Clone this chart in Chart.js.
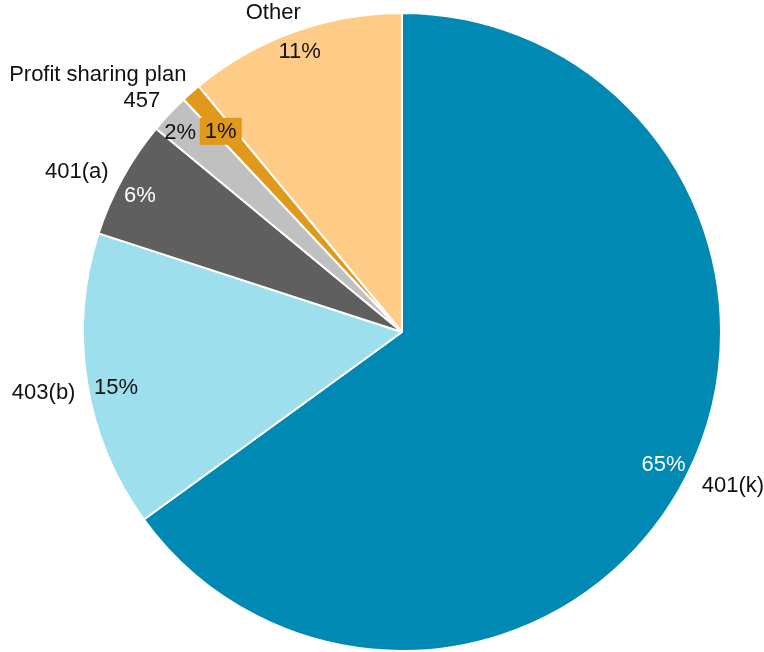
<!DOCTYPE html>
<html>
<head>
<meta charset="utf-8">
<script src="https://cdn.jsdelivr.net/npm/chart.js@4.4.0/dist/chart.umd.min.js"></script>
<style>
    html, body { margin: 0; padding: 0; background: #fff; }
    #wrap { width: 764px; height: 652px; }
</style>
</head>
<body>
<div id="wrap"><canvas id="planChart"></canvas></div>
<script>
const categories = ['401(k)', '403(b)', '401(a)', '457', 'Profit sharing plan', 'Other'];
const shares = [65, 15, 6, 2, 1, 11];
const sliceColors = ['#0089B3', '#9DDFED', '#5F5F5F', '#C0C0C0', '#E0991A', '#FFCC88'];
const pctColors = ['#ffffff', '#111111', '#ffffff', '#111111', '#111111', '#111111'];

// small manual shifts, the original placed some labels by hand
const nameNudge = {
    '401(k)': [10, 0],
    '403(b)': [-2, 8],
    '401(a)': [-9, 4],
    '457': [-7, 2],
    'Profit sharing plan': [-28, -2],
    'Other': [-8, 1]
};
const pctNudge = {
    '403(b)': [4, 10],
    '401(a)': [-5, 5],
    '457': [-8, 2],
    'Profit sharing plan': [-3, 2],
    'Other': [-3, -4]
};

const FONT = '22px "Liberation Sans", Arial, sans-serif';

const pieLabels = {
    id: 'pieLabels',
    afterDatasetsDraw(chart) {
        const ctx = chart.ctx;
        const meta = chart.getDatasetMeta(0);
        ctx.save();
        ctx.font = FONT;
        ctx.textAlign = 'center';
        ctx.textBaseline = 'middle';
        meta.data.forEach((arc, i) => {
            const p = arc.getProps(['x', 'y', 'startAngle', 'endAngle', 'outerRadius'], true);
            const mid = (p.startAngle + p.endAngle) / 2;
            const cos = Math.cos(mid), sin = Math.sin(mid);
            const name = categories[i];
            const pct = shares[i] + '%';

            // percentage inside the slice
            const thin = shares[i] < 2;
            const ri = p.outerRadius * (thin ? 0.845 : 0.92);
            const pn = pctNudge[name] || [0, 0];
            const ix = p.x + cos * ri + pn[0], iy = p.y + sin * ri + pn[1];
            if (thin) {
                ctx.fillStyle = sliceColors[i];
                ctx.fillRect(ix - 21, iy - 14, 42, 27);
            }
            ctx.fillStyle = pctColors[i];
            ctx.fillText(pct, ix, iy);

            // category name outside
            const w = ctx.measureText(name).width;
            const h = 22;
            const ro = p.outerRadius + 10;
            const nn = nameNudge[name] || [0, 0];
            const ox = p.x + cos * ro + cos * w / 2 + nn[0];
            const oy = p.y + sin * ro + sin * h / 2 + nn[1];
            ctx.fillStyle = '#111111';
            ctx.fillText(name, ox, oy);
        });
        ctx.restore();
    }
};

new Chart(document.getElementById('planChart'), {
    type: 'pie',
    data: {
        labels: categories,
        datasets: [{
            data: shares,
            backgroundColor: sliceColors,
            borderColor: '#ffffff',
            borderWidth: 2,
            hoverOffset: 0
        }]
    },
    options: {
        responsive: true,
        maintainAspectRatio: false,
        animation: false,
        events: [],
        layout: {
            padding: { left: 40, right: 0, top: 12, bottom: -8 }
        },
        plugins: {
            legend: { display: false },
            tooltip: { enabled: false }
        }
    },
    plugins: [pieLabels]
});
</script>
</body>
</html>
